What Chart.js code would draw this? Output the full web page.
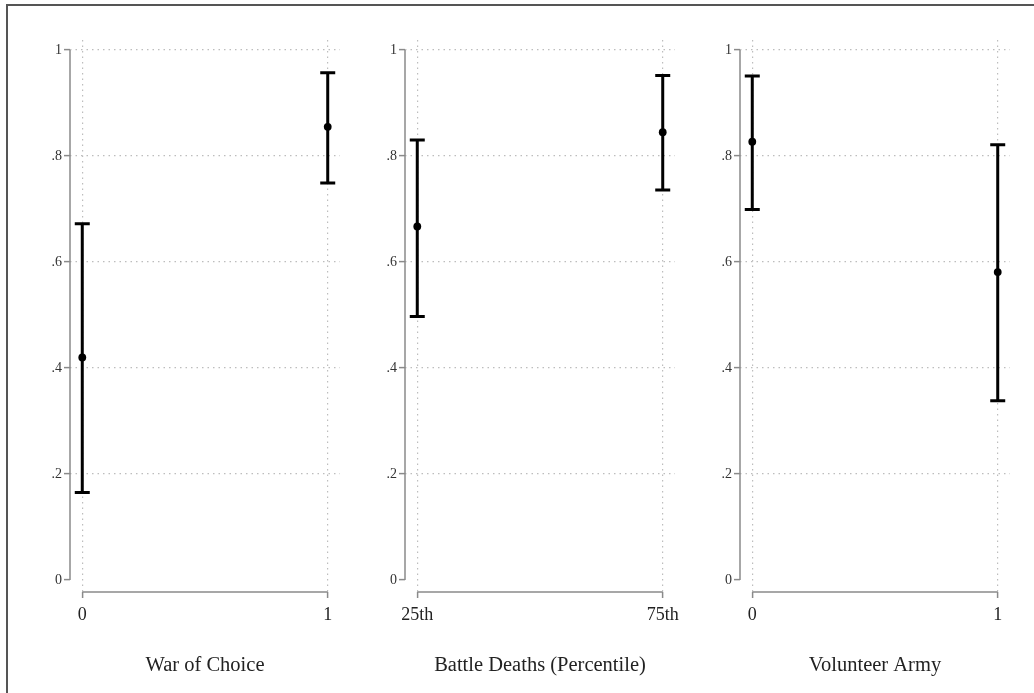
<!DOCTYPE html>
<html>
<head>
<meta charset="utf-8">
<script src="https://cdn.jsdelivr.net/npm/chart.js@4.4.1/dist/chart.umd.min.js"></script>
<style>
  html, body { margin: 0; padding: 0; background: #fff; overflow: hidden; }
  body { width: 1034px; height: 693px; position: relative; }
  #frame { position: absolute; left: 6px; top: 4px; width: 1100px; height: 800px;
           border: 2px solid #555; box-sizing: border-box; }
  canvas { position: absolute; top: 0; }
</style>
</head>
<body>
<div id="frame"></div>
<canvas id="warChoice" width="335" height="693" style="left:10px"></canvas>
<canvas id="battleDeaths" width="335" height="693" style="left:345px"></canvas>
<canvas id="volunteerArmy" width="335" height="693" style="left:680px"></canvas>

<script>
// ── data ──────────────────────────────────────────
const xPositions = [0, 1];
const yTicks = [0, 0.2, 0.4, 0.6, 0.8, 1];
const yTickLabels = ['0', '.2', '.4', '.6', '.8', '1'];

const warChoiceLabels = ['0', '1'];
const warChoiceEst = [0.420, 0.855];
const warChoiceLo  = [0.165, 0.749];
const warChoiceHi  = [0.672, 0.957];

const battleLabels = ['25th', '75th'];
const battleEst = [0.667, 0.845];
const battleLo  = [0.497, 0.736];
const battleHi  = [0.830, 0.952];

const volunteerLabels = ['0', '1'];
const volunteerEst = [0.827, 0.581];
const volunteerLo  = [0.699, 0.338];
const volunteerHi  = [0.951, 0.821];

// ── styles ────────────────────────────────────────
const SERIF = '"Liberation Serif", "DejaVu Serif", serif';
const GRID = '#bdbdbd';
const AXIS = '#8a8a8a';

// vertical CI lines with caps, drawn under the points
const errorBars = {
  id: 'errorBars',
  beforeDatasetsDraw(chart) {
    const { ctx, scales: { x, y } } = chart;
    const ds = chart.data.datasets[0];
    ctx.save();
    ctx.strokeStyle = '#000';
    ctx.lineWidth = 3;
    ds.data.forEach((p, i) => {
      const px = x.getPixelForValue(p.x);
      const yLo = y.getPixelForValue(ds.lower[i]);
      const yHi = y.getPixelForValue(ds.upper[i]);
      ctx.beginPath();
      ctx.moveTo(px, yLo); ctx.lineTo(px, yHi);
      ctx.moveTo(px - 7.5, yLo); ctx.lineTo(px + 7.5, yLo);
      ctx.moveTo(px - 7.5, yHi); ctx.lineTo(px + 7.5, yHi);
      ctx.stroke();
    });
    ctx.restore();
  }
};

// axis lines only span the first to last tick
const axisLines = {
  id: 'axisLines',
  afterDraw(chart) {
    const { ctx, chartArea, scales: { x, y } } = chart;
    ctx.save();
    ctx.strokeStyle = AXIS;
    ctx.lineWidth = 1.5;
    ctx.beginPath();
    ctx.moveTo(chartArea.left, y.getPixelForValue(yTicks[0]));
    ctx.lineTo(chartArea.left, y.getPixelForValue(yTicks[yTicks.length - 1]));
    ctx.moveTo(x.getPixelForValue(xPositions[0]), chartArea.bottom);
    ctx.lineTo(x.getPixelForValue(xPositions[xPositions.length - 1]), chartArea.bottom);
    ctx.stroke();
    ctx.restore();
  }
};

function makePanel(id, title, labels, est, lo, hi) {
  return new Chart(document.getElementById(id), {
    type: 'scatter',
    data: {
      datasets: [{
        data: xPositions.map((v, i) => ({ x: v, y: est[i] })),
        lower: lo,
        upper: hi,
        pointRadius: 3.9,
        pointBackgroundColor: '#000',
        pointBorderWidth: 0,
      }],
    },
    options: {
      responsive: false,
      animation: false,
      layout: { padding: { top: 40, right: 5, left: 0, bottom: 0 } },
      plugins: { legend: { display: false }, tooltip: { enabled: false } },
      scales: {
        x: {
          type: 'linear',
          min: -0.05,
          max: 1.05,
          afterBuildTicks: s => { s.ticks = xPositions.map(v => ({ value: v })); },
          // fixed height; labels may hang past the plot edges
          afterFit: s => { s.height = 101; s.paddingLeft = 0; s.paddingRight = 0; },
          grid: { color: GRID, lineWidth: 1.2, tickLength: 6, tickColor: AXIS, tickWidth: 1.5, tickBorderDash: [] },
          border: { display: false, dash: [1.5, 4] },
          ticks: {
            callback: (v, i) => labels[i],
            font: { family: SERIF, size: 18 },
            color: '#222',
            padding: 6,
            maxRotation: 0,
            autoSkip: false,
          },
          title: {
            display: true,
            text: title,
            font: { family: SERIF, size: 20.5 },
            color: '#222',
            padding: { top: 0, bottom: 15 },
          },
        },
        y: {
          min: -12 / 530,
          max: 1 + 10 / 530,
          afterBuildTicks: s => { s.ticks = yTicks.map(v => ({ value: v })); },
          afterFit: s => { s.width = 60; },
          grid: {
            color: c => (c.tick && c.tick.value === 0 ? 'rgba(0,0,0,0)' : GRID),
            lineWidth: 1.2, tickLength: 6, tickColor: AXIS, tickWidth: 1.5, tickBorderDash: [],
          },
          border: { display: false, dash: [1.5, 4] },
          ticks: {
            callback: (v, i) => yTickLabels[i],
            font: { family: SERIF, size: 14 },
            color: '#333',
            padding: 2,
          },
        },
      },
    },
    plugins: [errorBars, axisLines],
  });
}

makePanel('warChoice', 'War of Choice', warChoiceLabels, warChoiceEst, warChoiceLo, warChoiceHi);
makePanel('battleDeaths', 'Battle Deaths (Percentile)', battleLabels, battleEst, battleLo, battleHi);
makePanel('volunteerArmy', 'Volunteer Army', volunteerLabels, volunteerEst, volunteerLo, volunteerHi);
</script>
</body>
</html>
